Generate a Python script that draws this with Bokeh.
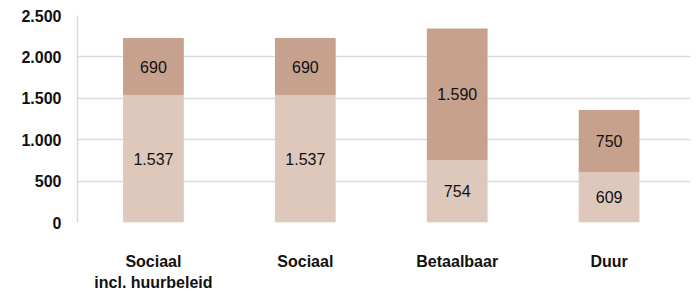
from bokeh.plotting import figure
from bokeh.models import ColumnDataSource, FixedTicker, Range1d
from bokeh.embed import file_html
from bokeh.resources import INLINE
from bokeh.core.properties import value

categories = ["Sociaal\nincl. huurbeleid", "Sociaal", "Betaalbaar", "Duur"]
bottom_vals = [1537, 1537, 754, 609]
top_vals = [690, 690, 1590, 750]
y_ticks = [0, 500, 1000, 1500, 2000, 2500]

def nl(v):
    return f"{v:,}".replace(",", ".")

xs = list(range(len(categories)))
tops = [b + t for b, t in zip(bottom_vals, top_vals)]
src = ColumnDataSource(dict(
    x=xs, b=bottom_vals, t=tops,
    bmid=[b / 2 for b in bottom_vals],
    tmid=[b + t / 2 for b, t in zip(bottom_vals, top_vals)],
    blab=[nl(v) for v in bottom_vals],
    tlab=[nl(v) for v in top_vals],
))

p = figure(frame_width=613, frame_height=207, output_backend="svg", toolbar_location=None,
           x_range=Range1d(-0.5, 3.536), y_range=Range1d(0, 2500),
           min_border_left=77, min_border_top=15, min_border_right=2, min_border_bottom=66)
p.outline_line_color = None
p.background_fill_color = "white"
p.border_fill_color = "white"

p.vbar(x="x", bottom=0, top="b", width=0.4, source=src, color="#dec8bc", line_color=None)
p.vbar(x="x", bottom="b", top="t", width=0.4, source=src, color="#c6a18e", line_color=None)

font = value("Liberation Sans")
p.text(x="x", y="bmid", text="blab", source=src, text_font=font, text_font_size="16px",
       text_align="center", text_baseline="middle", text_color="#111111")
p.text(x="x", y="tmid", text="tlab", source=src, text_font=font, text_font_size="16px",
       text_align="center", text_baseline="middle", text_color="#111111")

p.xgrid.grid_line_color = None
p.ygrid.grid_line_color = "#dadada"
p.ygrid.grid_line_width = 1.5
p.ygrid.ticker = FixedTicker(ticks=y_ticks)

ya = p.yaxis[0]
ya.ticker = FixedTicker(ticks=y_ticks)
ya.major_label_overrides = {t: nl(t) for t in y_ticks}
ya.axis_line_color = "#dadada"
ya.axis_line_width = 1.5
ya.major_tick_line_color = None
ya.minor_tick_line_color = None
ya.major_label_standoff = 10
ya.major_label_text_font = "Liberation Sans"
ya.major_label_text_font_size = "16px"
ya.major_label_text_font_style = "bold"
ya.major_label_text_color = "#111111"

xa = p.xaxis[0]
xa.ticker = FixedTicker(ticks=xs)
xa.major_label_overrides = {i: c for i, c in enumerate(categories)}
xa.axis_line_color = None
xa.major_tick_line_color = None
xa.minor_tick_line_color = None
xa.major_label_standoff = 24
xa.major_label_text_font = "Liberation Sans"
xa.major_label_text_font_size = "16px"
xa.major_label_text_font_style = "bold"
xa.major_label_text_line_height = 1.25
xa.major_label_text_color = "#111111"

open("out.html", "w").write(file_html(p, INLINE))
